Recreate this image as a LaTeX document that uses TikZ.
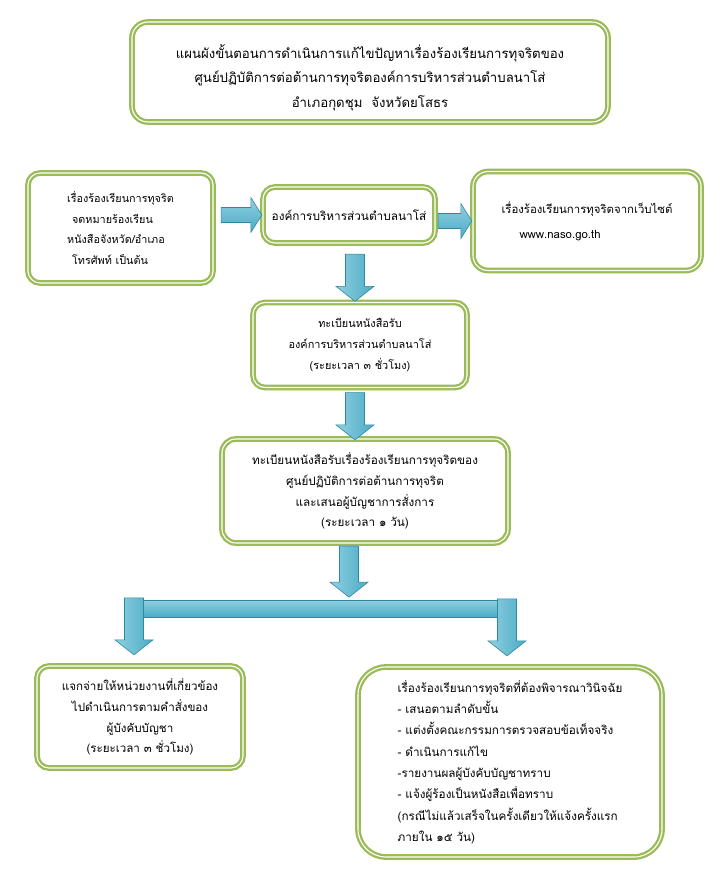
\documentclass[tikz,border=0pt]{standalone}
\usepackage{fontspec}
\newfontfamily\thaifont[Script=Thai]{Loma}
\usetikzlibrary{calc,positioning}
\definecolor{kgreen}{HTML}{9BBB59}
\definecolor{kblue}{HTML}{4BACC6}
\definecolor{kbluel}{HTML}{8FCFE0}
\definecolor{kblued}{HTML}{2E88A0}
\newcommand{\tfs}[2]{\thaifont\fontsize{#1}{#2}\selectfont\lineskiplimit=-30pt}
\tikzset{
  kbox/.style={draw=kgreen,double=white,double distance=1.1pt,line width=2.3pt,
    rounded corners=12pt,fill=white,align=center,inner sep=0pt,
    font=\tfs{11.7}{21}},
  blkh/.style={draw=kblued,line width=0.6pt,top color=kbluel,bottom color=kblue},
  blkv/.style={draw=kblued,line width=0.6pt,left color=kbluel,right color=kblue},
}
% block arrows: #1 tail point, #2 tip point
\newcommand{\rblk}[2]{\path[blkh] let \p1=#1, \p2=#2 in
  (\x1,\y2+7.5pt) -- (\x2-11pt,\y2+7.5pt) -- (\x2-11pt,\y2+17.5pt) -- (\x2,\y2)
  -- (\x2-11pt,\y2-17.5pt) -- (\x2-11pt,\y2-7.5pt) -- (\x1,\y2-7.5pt) -- cycle;}
\newcommand{\dblk}[2]{\path[blkv] let \p1=#1, \p2=#2 in
  (\x2-9.5pt,\y1) -- (\x2+9.5pt,\y1) -- (\x2+9.5pt,\y2+15pt) -- (\x2+19pt,\y2+15pt)
  -- (\x2,\y2) -- (\x2-19pt,\y2+15pt) -- (\x2-9.5pt,\y2+15pt) -- cycle;}

\begin{document}
\begin{tikzpicture}[x=1pt,y=1pt]
  \useasboundingbox (0,0) rectangle (721,-890);
  \node[kbox,minimum width=476,minimum height=100,rounded corners=16pt,
    font=\tfs{13.2}{24.5}] (title) at (370,-72)
    {\rule{0pt}{25pt}แผนผังขั้นตอนการดำเนินการแก้ไขปัญหาเรื่องร้องเรียนการทุจริตของ\\
     ศูนย์ปฏิบัติการต่อต้านการทุจริตองค์การบริหารส่วนตำบลนาโส่\\
     อำเภอกุดชุม\ \ จังหวัดยโสธร};
  \node[kbox,minimum width=185,minimum height=110,align=left,
    font=\tfs{10.8}{20.8}] (src) at (120.5,-228)
    {เรื่องร้องเรียนการทุจริต\\
     \hspace{5pt}จดหมายร้องเรียน\\
     หนังสือจังหวัด/อำเภอ\\
     \hspace{5pt}โทรศัพท์ เป็นต้น};
  \node[kbox,minimum width=172,minimum height=56,
    font=\tfs{11.8}{21}] (obt) at (349,-215)
    {องค์การบริหารส่วนตำบลนาโส่};
  \node[kbox,minimum width=228,minimum height=99,rounded corners=15pt,align=left,
    font=\tfs{11.4}{25}] (web) at (587,-221)
    {เรื่องร้องเรียนการทุจริตจากเว็บไซต์\\
     \hspace{18pt}www.naso.go.th};
  \node[kbox,minimum width=214,minimum height=85,
    font=\tfs{10.9}{21}] (reg) at (360,-345)
    {ทะเบียนหนังสือรับ\\
     องค์การบริหารส่วนตำบลนาโส่\\
     (ระยะเวลา ๓ ชั่วโมง)};
  \node[kbox,minimum width=286,minimum height=104,rounded corners=14pt,
    font=\tfs{11.7}{20.7}] (regcc) at (365,-491)
    {ทะเบียนหนังสือรับเรื่องร้องเรียนการทุจริตของ\\
     ศูนย์ปฏิบัติการต่อต้านการทุจริต\\
     และเสนอผู้บัญชาการสั่งการ\\
     (ระยะเวลา ๑ วัน)};
  \node[kbox,minimum width=206,minimum height=102,
    font=\tfs{11.6}{20.7}] (dist) at (140,-717)
    {แจกจ่ายให้หน่วยงานที่เกี่ยวข้อง\\
     ไปดำเนินการตามคำสั่งของ\\
     ผู้บังคับบัญชา\\
     (ระยะเวลา ๓ ชั่วโมง)};
  \node[kbox,minimum width=304,minimum height=190,rounded corners=28pt,align=left,
    font=\tfs{11.7}{21.3}] (judge) at (510,-762)
    {เรื่องร้องเรียนการทุจริตที่ต้องพิจารณาวินิจฉัย\\
     - เสนอตามลำดับขั้น\\
     - แต่งตั้งคณะกรรมการตรวจสอบข้อเท็จจริง\\
     - ดำเนินการแก้ไข\\
     -รายงานผลผู้บังคับบัญชาทราบ\\
     - แจ้งผู้ร้องเป็นหนังสือเพื่อทราบ\\
     (กรณีไม่แล้วเสร็จในครั้งเดียวให้แจ้งครั้งแรก\\
     ภายใน ๑๕ วัน)};
  \rblk{($(src.east)+(7,0)$)}{(obt.west)}
  \rblk{($(obt.east)+(2,0)$)}{(web.west)}
  \dblk{($(obt.south)+(0,-10)$)}{($(reg.north)+(-5,0)$)}
  \dblk{($(reg.south)+(0,-4)$)}{($(regcc.north)+(-10,-2)$)}
  \dblk{($(regcc.south)+(0,-2)$)}{($(regcc.south)+(-16,-53)$)}
  \path[blkh] let \p1=(dist.north), \p2=(judge.north) in
    (\x1-10pt,-600) rectangle (\x2,-617);
  \dblk{($(dist.north)+(0,67)$)}{($(dist.north)+(-6,10)$)}
  \dblk{($(judge.north)+(0,67)$)}{($(judge.north)+(-3,10)$)}
\end{tikzpicture}
\end{document}
